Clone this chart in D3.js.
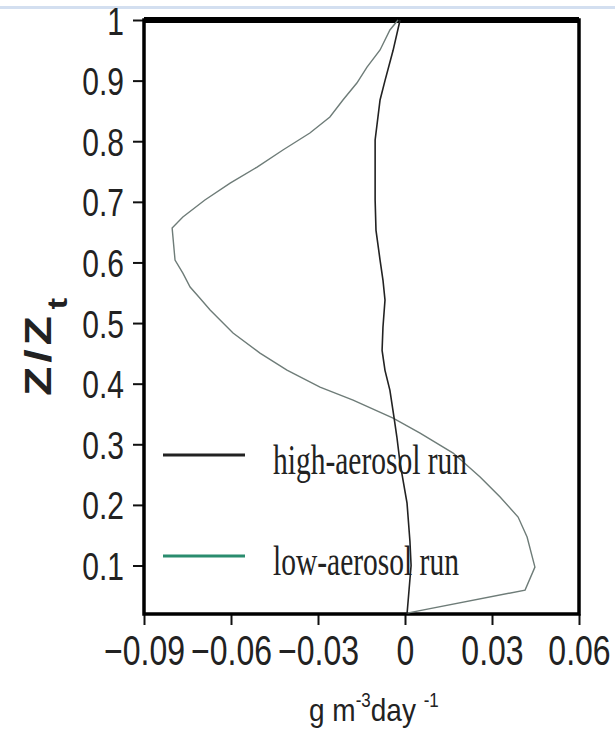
<!DOCTYPE html>
<html>
<head>
<meta charset="utf-8">
<script src="https://cdn.jsdelivr.net/npm/d3@7"></script>
<style>
  body { margin: 0; background: #fff; }
  svg { display: block; }
</style>
</head>
<body>
<svg id="chart"></svg>
<script>
// tick values
const xTicks = [-0.09, -0.06, -0.03, 0, 0.03, 0.06];
const yTicks = [0.1, 0.2, 0.3, 0.4, 0.5, 0.6, 0.7, 0.8, 0.9, 1];

// high-aerosol run profile (z/zt, value)
const highZ = [1.0, 0.95, 0.90, 0.868, 0.802, 0.703, 0.653, 0.604, 0.571, 0.538, 0.493, 0.455,
               0.422, 0.389, 0.345, 0.312, 0.269, 0.203, 0.14, 0.1, 0.06, 0.02];
const highVal = [-0.0017, -0.0041, -0.0069, -0.0086, -0.0103, -0.0103, -0.0100, -0.0086, -0.0076, -0.0069, -0.0076, -0.0079,
                 -0.0069, -0.0052, -0.0038, -0.0028, -0.0017, 0.0007, 0.0017, 0.0021, 0.0014, 0.0007];

// low-aerosol run profile
const lowZ = [1.0, 0.9835, 0.9505, 0.9224, 0.896, 0.868, 0.84, 0.8135, 0.7855, 0.7574, 0.731, 0.703,
              0.675, 0.657, 0.604, 0.5825, 0.5594, 0.541, 0.5215, 0.4835, 0.4505, 0.4224, 0.3944, 0.373,
              0.343, 0.3185, 0.2855, 0.2459, 0.213, 0.18, 0.147, 0.0974, 0.0594, 0.0215];
const lowVal = [-0.0024, -0.0052, -0.0086, -0.0131, -0.0166, -0.0214, -0.0259, -0.0328, -0.0421, -0.0510, -0.0603, -0.0690,
                -0.0766, -0.0803, -0.0793, -0.0766, -0.0741, -0.0707, -0.0672, -0.0593, -0.0500, -0.0407, -0.0293, -0.0179,
                -0.0041, 0.0052, 0.0166, 0.0259, 0.0328, 0.0390, 0.0421, 0.0448, 0.0414, 0.0007];

const seriesNames = ["high-aerosol run", "low-aerosol run"];

const W = 615, H = 734;
const margin = {top: 20, right: 36, bottom: 120, left: 144};
const innerW = W - margin.left - margin.right;
const innerH = H - margin.top - margin.bottom;
const stretch = 1.3; // source picture is stretched vertically

const svg = d3.select('#chart').attr('width', W).attr('height', H);

// faint window edge at the very top
svg.append('rect').attr('x', 0).attr('y', 6).attr('width', W).attr('height', 3)
    .attr('fill', '#d3dff0');

const g = svg.append('g').attr('transform', `translate(${margin.left},${margin.top})`);

const x = d3.scaleLinear().domain([-0.09, 0.06]).range([0, innerW]);
const y = d3.scaleLinear().domain([0.02, 1]).range([innerH, 0]);

// y axis
const yAxis = g.append('g')
    .call(d3.axisLeft(y).tickValues(yTicks).tickSize(11).tickFormat(d3.format('')));
yAxis.select('.domain').remove();
yAxis.selectAll('line').attr('stroke', '#111').attr('stroke-width', 2);
yAxis.selectAll('text')
    .attr('x', -20).attr('dy', '0.36em')
    .attr('transform', `scale(1,${stretch})`)
    .style('font-family', '"Liberation Sans", Arial, sans-serif')
    .style('font-size', '30px')
    .attr('fill', '#222');

// x axis
const xAxis = g.append('g').attr('transform', `translate(0,${innerH})`)
    .call(d3.axisBottom(x).tickValues(xTicks).tickSize(11).tickFormat(d3.format('')));
xAxis.select('.domain').remove();
xAxis.selectAll('line').attr('stroke', '#111').attr('stroke-width', 2);
xAxis.selectAll('text')
    .attr('y', 51 / stretch).attr('dy', 0)
    .attr('transform', `scale(1,${stretch})`)
    .style('font-family', '"Liberation Sans", Arial, sans-serif')
    .style('font-size', '32px')
    .attr('fill', '#222');

// frame
g.append('line').attr('x1', 0).attr('x2', innerW).attr('y1', 0).attr('y2', 0)
    .attr('stroke', '#000').attr('stroke-width', 6);
g.append('rect').attr('width', innerW).attr('height', innerH)
    .attr('fill', 'none').attr('stroke', '#000').attr('stroke-width', 3.5);

// profiles
const line = d3.line().x(d => x(d[1])).y(d => y(d[0]));

g.append('path')
    .datum(lowZ.map((z, i) => [z, lowVal[i]]))
    .attr('d', line)
    .attr('fill', 'none').attr('stroke', '#6e7c78').attr('stroke-width', 1.4);

g.append('path')
    .datum(highZ.map((z, i) => [z, highVal[i]]))
    .attr('d', line)
    .attr('fill', 'none').attr('stroke', '#222').attr('stroke-width', 1.6);

// legend
const legendColors = ['#222', '#2a8c6e'];
const legendY = [435, 536];
const legendStretch = 1.45;
seriesNames.forEach((name, i) => {
    g.append('line')
        .attr('x1', 19).attr('x2', 101)
        .attr('y1', legendY[i]).attr('y2', legendY[i])
        .attr('stroke', legendColors[i]).attr('stroke-width', 3);
    g.append('text')
        .attr('x', 129).attr('y', (legendY[i] + 19) / legendStretch)
        .attr('transform', `scale(1,${legendStretch})`)
        .style('font-family', '"Liberation Serif", "Times New Roman", serif')
        .style('font-size', '29.5px')
        .attr('fill', '#222')
        .text(name);
});

// y title  z/z_t
const yTitle = svg.append('text')
    .attr('transform', `translate(51,396) rotate(-90) scale(${stretch},1)`)
    .style('font-family', '"Liberation Sans", Arial, sans-serif')
    .style('font-weight', 'bold')
    .attr('fill', '#222');
yTitle.append('tspan').style('font-size', '37px').attr('letter-spacing', 3).text('Z/Z');
yTitle.append('tspan').style('font-size', '27px').attr('dx', 2).attr('dy', 16).text('t');

// x title
const xTitle = svg.append('text')
    .attr('transform', `translate(309,721) scale(1,1.15)`)
    .style('font-family', '"Liberation Sans", Arial, sans-serif')
    .style('font-size', '28px')
    .attr('fill', '#222');
xTitle.append('tspan').text('g m');
xTitle.append('tspan').style('font-size', '17px').attr('dy', -12).text('-3');
xTitle.append('tspan').attr('dy', 12).text('day ');
xTitle.append('tspan').style('font-size', '17px').attr('dy', -12).text('-1');
</script>
</body>
</html>
